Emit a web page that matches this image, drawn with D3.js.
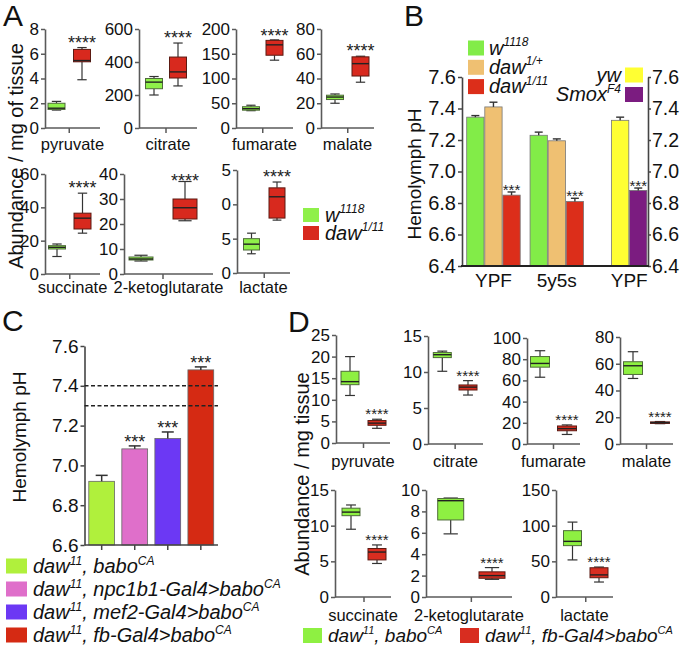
<!DOCTYPE html>
<html><head><meta charset="utf-8">
<script src="https://cdn.jsdelivr.net/npm/d3@7"></script>
<style>body{margin:0;background:#fff}svg{display:block}</style>
</head><body><svg id="c" width="680" height="654"></svg>
<script>
// ================= DATA =================
// Panel A : box plots [min, q1, median, q3, max]
const metabolitesA = ["pyruvate","citrate","fumarate","malate","succinate","2-ketoglutarate","lactate"];
const aW1118 = [[1.45,1.5,1.6,2.0,2.15],[200,238,278,300,312],[35,36,39,43,46],[20,23,25,26.5,27.5],[10.5,15,16,17,18],[5.2,5.6,6.0,6.8,7.5],[2.8,3.35,4.2,5.0,5.8]];
const aDaw = [[3.9,5.35,5.45,6.35,6.5],[255,303,340,430,515],[137,147,168,177,178],[37,42,52,57.5,58],[24.5,27,33.5,36.5,48.5],[21.3,22,26.5,30,37],[7.7,8.0,11.1,12.4,13.25]];
const aTicks = [[0,2,4,6,8],[0,200,400,600],[0,50,100,150,200],[0,20,40,60,80],[0,20,40,60],[0,10,20,30,40],[0,5,10,15]];
const aTickLabels = [null,null,null,null,null,null,["0","5","0","5"]];
const aSig = ["****","****","****","****","****","****","****"];
const aLegend = ["w{1118}","daw{1/11}"];

// Panel B : bars (mean, error)
const bGroupLabels = ["YPF","5y5s","YPF"];
const bLeftSeries = ["w{1118}","daw{1/+}","daw{1/11}"];
const bMeanYPF = [7.345, 7.41, 6.85];
const bErrYPF = [0.01, 0.03, 0.02];
const bMean5y5s = [7.23, 7.195, 6.81];
const bErr5y5s = [0.02, 0.012, 0.02];
const bRightSeries = ["yw","Smox{F4}"];
const bMeanRight = [7.325, 6.88];
const bErrRight = [0.02, 0.015];
const bSigYPF = ["","","***"];
const bSig5y5s = ["","","***"];
const bSigRight = ["","***"];
const bTicks = [6.4,6.6,6.8,7.0,7.2,7.4,7.6];

// Panel C
const cGenotypes = ["daw{11}, babo{CA}","daw{11}, npc1b1-Gal4>babo{CA}","daw{11}, mef2-Gal4>babo{CA}","daw{11}, fb-Gal4>babo{CA}"];
const cMeans = [6.92, 7.083, 7.135, 7.48];
const cErr = [0.03, 0.015, 0.033, 0.015];
const cSig = ["","***","***","***"];
const cRefLines = [7.4, 7.3];
const cTicks = [6.6,6.8,7.0,7.2,7.4,7.6];

// Panel D : box plots [min, q1, median, q3, max]
const metabolitesD = ["pyruvate","citrate","fumarate","malate","succinate","2-ketoglutarate","lactate"];
const dControl = [[11,13.5,14.2,16.6,20],[10.1,12.0,12.4,12.7,12.9],[63,72.5,76,82.5,88],[49,52,58.5,61.5,69],[9.5,11.4,11.9,12.45,12.9],[5.9,7.2,9.0,9.2,9.25],[52,72,78,93,105]];
const dFb = [[3.4,4.1,4.6,5.2,5.5],[6.8,7.5,7.9,8.2,8.8],[9,12.5,14.5,17,18],[15.2,15.4,16,16.5,16.8],[4.7,5.2,6.3,6.8,7.3],[1.65,1.75,2.0,2.35,2.75],[21,27,31,41,42]];
const dTicks = [[0,5,10,15,20,25],[0,5,10,15],[0,20,40,60,80,100],[0,20,40,60,80],[0,5,10,15],[0,2,4,6,8,10],[0,50,100,150]];
const dSig = ["****","****","****","****","****","****","****"];
const dLegend = ["daw{11}, babo{CA}","daw{11}, fb-Gal4>babo{CA}"];

// ================= DRAWING =================
const FONT = "'Liberation Sans', Arial, Helvetica, sans-serif";
const svg = d3.select("#c").attr("font-family", FONT);
const AX = "#5a5a5a";

function parseRich(s){ const out=[]; const re=/([^{}]*)(?:\{([^}]*)\})?/g; let m;
  while((m=re.exec(s))!==null){ if(m[0]==="") {re.lastIndex++; if(re.lastIndex> s.length) break; continue;} out.push([m[1],m[2]||""]); }
  return out; }
function rich(parent, x, y, s, fs, anchor){
  const t = parent.append("text").attr("x",x).attr("y",y).attr("font-size",fs)
    .attr("font-style","italic").attr("text-anchor",anchor||"start").attr("fill","#111");
  const sh = fs*0.42, ss = Math.round(fs*0.6); let raised=false;
  parseRich(s).forEach(([b,sp])=>{
    if(b){ t.append("tspan").attr("dy", raised? sh:0).text(b); raised=false; }
    if(sp){ t.append("tspan").attr("dy", raised?0:-sh).attr("font-size",ss).text(sp); raised=true; }
  });
  return t;
}
function styleAxis(g, fs, color){
  g.attr("font-size",fs).attr("font-family",FONT);
  g.selectAll("path.domain").attr("stroke",color).attr("stroke-width",1.6);
  g.selectAll(".tick line").attr("stroke",color).attr("stroke-width",1.5);
  g.selectAll(".tick text").attr("fill","#111");
}
function letter(x,y,t){ svg.append("text").attr("x",x).attr("y",y).attr("font-size",30).attr("fill","#111").text(t); }
function yTitle(x,y,t,fs){ svg.append("text").attr("transform",`translate(${x},${y}) rotate(-90)`)
  .attr("text-anchor","middle").attr("font-size",fs).attr("fill","#111").text(t); }

function boxPanel(L, name, s1, s2, ticks, tickLabels, sig, fs, sigFs, sigFn, colors){
  const g = svg.append("g");
  const y = d3.scaleLinear().domain([0, d3.max(ticks)]).range([L.zero, L.top]);
  const x = d3.scalePoint().domain(["a","b"]).range(L.cx);
  const ax = d3.axisLeft(y).tickValues(ticks).tickSize(4).tickSizeOuter(0).tickPadding(2)
    .tickFormat((d,i)=> tickLabels ? tickLabels[i] : d3.format("~g")(d));
  const ga = g.append("g").attr("transform",`translate(${L.x0},0)`).call(ax);
  styleAxis(ga, fs, AX);
  g.append("line").attr("x1",L.x0).attr("x2",L.x1).attr("y1",L.zero).attr("y2",L.zero).attr("stroke",AX).attr("stroke-width",1.6);
  const mid = (x("a")+x("b"))/2;
  g.append("line").attr("x1",mid).attr("x2",mid).attr("y1",L.zero).attr("y2",L.zero+5).attr("stroke",AX).attr("stroke-width",1.5);
  g.append("text").attr("x",(L.x0+L.x1)/2 + (L.lx||0)).attr("y",L.zero+L.ly).attr("text-anchor","middle")
    .attr("font-size",16.5).attr("fill","#111").text(name);
  [[s1,"a",colors[0],colors[1]],[s2,"b",colors[2],colors[3]]].forEach(([s,k,fill,stroke])=>{
    const cx = x(k), bw = L.bw, cap = bw*0.55;
    const [mn,q1,md,q3,mx] = s;
    const wl = (a,b)=> g.append("line").attr("x1",cx).attr("x2",cx).attr("y1",y(a)).attr("y2",y(b)).attr("stroke","#333").attr("stroke-width",1.2);
    wl(mx,q3); wl(q1,mn);
    [mn,mx].forEach(v=> g.append("line").attr("x1",cx-cap/2).attr("x2",cx+cap/2).attr("y1",y(v)).attr("y2",y(v)).attr("stroke","#333").attr("stroke-width",1.2));
    g.append("rect").attr("x",cx-bw/2).attr("width",bw).attr("y",y(q3)).attr("height",Math.max(1,y(q1)-y(q3)))
      .attr("fill",fill).attr("stroke",stroke).attr("stroke-width",1);
    g.append("line").attr("x1",cx-bw/2).attr("x2",cx+bw/2).attr("y1",y(md)).attr("y2",y(md)).attr("stroke","#222").attr("stroke-width",1.4);
  });
  g.append("text").attr("x",x("b")).attr("y",sigFn(y(s2[4]),L)).attr("text-anchor","middle")
    .attr("font-size",sigFs).attr("fill","#222").text(sig);
}

// ---------- Panel A ----------
letter(3,26,"A");
yTitle(23,156,"Abundance / mg of tissue",20);
const aLayout = [
  {x0:45,x1:100,top:29,zero:128,cx:[56.5,82],bw:17,ly:22},
  {x0:139,x1:197,top:29,zero:128,cx:[154,178],bw:17,ly:22},
  {x0:236,x1:293,top:29,zero:128,cx:[251,274.5],bw:17,ly:22},
  {x0:321,x1:374,top:29,zero:128,cx:[335,360.5],bw:17,ly:22},
  {x0:45,x1:100,top:174,zero:274,cx:[57,82.5],bw:17,ly:19},
  {x0:124,x1:213,top:174,zero:274,cx:[141,185],bw:24,ly:19},
  {x0:237,x1:290,top:170,zero:273,cx:[251.5,277],bw:16,ly:20}
];
const aCol = ["#8ff04a","#4f6b3a","#d8291e","#5c1a12"];
metabolitesA.forEach((m,i)=> boxPanel(aLayout[i], m, aW1118[i], aDaw[i], aTicks[i], aTickLabels[i], aSig[i], 17, 18,
  (wy,L)=> Math.max(wy+1, L.top+13), aCol));
// legend A
[[aLegend[0],"#8ff04a",208],[aLegend[1],"#d8291e",226]].forEach(([t,c,yy])=>{
  svg.append("rect").attr("x",303).attr("y",yy).attr("width",16).attr("height",14).attr("fill",c);
  rich(svg,325,yy+13.5,t,20);
});

// ---------- Panel B ----------
letter(404,26,"B");
yTitle(421,174,"Hemolymph pH",19);
const bY = d3.scaleLinear().domain([6.4,7.6]).range([266,77]);
const slotX = d3.scaleLinear().domain([0,9]).range([466.7,629.6]);
const bw = 17.3;
const bColLeft = ["#82ec48","#efc072","#dc2e1a"];
const bColRight = ["#ffff33","#7b1c80"];
const bBars = [];
[[bMeanYPF,bErrYPF,bSigYPF,0],[bMean5y5s,bErr5y5s,bSig5y5s,3.5]].forEach(([mv,ev,sv,off])=>{
  mv.forEach((v,i)=> bBars.push({slot:off+i, v, e:ev[i], s:sv[i], c:bColLeft[i]}));
});
bMeanRight.forEach((v,i)=> bBars.push({slot:8+i, v, e:bErrRight[i], s:bSigRight[i], c:bColRight[i]}));
const gB = svg.append("g");
const axL = gB.append("g").attr("transform","translate(462,0)").call(d3.axisLeft(bY).tickValues(bTicks).tickSize(4).tickSizeOuter(0).tickPadding(2).tickFormat(d3.format(".1f")));
styleAxis(axL,20,"#444");
const axR = gB.append("g").attr("transform","translate(648,0)").call(d3.axisRight(bY).tickValues(bTicks).tickSize(3).tickSizeOuter(0).tickPadding(1).tickFormat(d3.format(".1f")));
styleAxis(axR,19.5,"#444");
bBars.forEach(b=>{
  const x = slotX(b.slot);
  gB.append("rect").attr("x",x).attr("width",bw).attr("y",bY(b.v)).attr("height",bY(6.4)-bY(b.v))
    .attr("fill",b.c).attr("stroke","#777").attr("stroke-width",0.8);
  const cx = x+bw/2, et = bY(b.v+b.e);
  gB.append("line").attr("x1",cx).attr("x2",cx).attr("y1",bY(b.v)).attr("y2",et).attr("stroke","#333").attr("stroke-width",1.4);
  gB.append("line").attr("x1",cx-4).attr("x2",cx+4).attr("y1",et).attr("y2",et).attr("stroke","#333").attr("stroke-width",1.4);
  if(b.s) gB.append("text").attr("x",cx).attr("y",et+3).attr("text-anchor","middle").attr("font-size",15).attr("fill","#222").text(b.s);
});
gB.append("line").attr("x1",461).attr("x2",649).attr("y1",266).attr("y2",266).attr("stroke","#222").attr("stroke-width",2);
const groupCenters = [slotX(1)+bw/2, slotX(4.5)+bw/2, slotX(8.5)+bw/2];
bGroupLabels.forEach((t,i)=> gB.append("text").attr("x",groupCenters[i]).attr("y",287).attr("text-anchor","middle").attr("font-size",19).attr("fill","#111").text(t));
bLeftSeries.forEach((t,i)=>{
  const yy = 40.5 + i*19.3;
  gB.append("rect").attr("x",468).attr("y",yy).attr("width",16).attr("height",15).attr("fill",bColLeft[i]);
  rich(gB,489,yy+14,t,20);
});
bRightSeries.forEach((t,i)=>{
  const yy = 67.5 + i*19.5;
  gB.append("rect").attr("x",625).attr("y",yy).attr("width",18).attr("height",15).attr("fill",bColRight[i]);
  rich(gB,621,yy+14,t,20,"end");
});

// ---------- Panel C ----------
letter(2,331,"C");
yTitle(26,437,"Hemolymph pH",19);
const cY = d3.scaleLinear().domain([6.6,7.6]).range([545,346]);
const cX = d3.scaleBand().domain(cGenotypes).range([84.5,218]).paddingInner(0.22).paddingOuter(0.13);
const cCol = ["#b0f03c","#df6fca","#6c38f4","#d52a13"];
const gC = svg.append("g");
const axC = gC.append("g").attr("transform","translate(84.5,0)").call(d3.axisLeft(cY).tickValues(cTicks).tickSize(4).tickSizeOuter(0).tickPadding(2).tickFormat(d3.format(".1f")));
styleAxis(axC,19,"#444");
cGenotypes.forEach((g,i)=>{
  const x = cX(g), w = cX.bandwidth(), cx = x+w/2;
  gC.append("rect").attr("x",x).attr("width",w).attr("y",cY(cMeans[i])).attr("height",cY(6.6)-cY(cMeans[i]))
    .attr("fill",cCol[i]).attr("stroke","#666").attr("stroke-width",0.8);
  const et = cY(cMeans[i]+cErr[i]);
  gC.append("line").attr("x1",cx).attr("x2",cx).attr("y1",cY(cMeans[i])).attr("y2",et).attr("stroke","#333").attr("stroke-width",1.5);
  gC.append("line").attr("x1",cx-6).attr("x2",cx+6).attr("y1",et).attr("y2",et).attr("stroke","#333").attr("stroke-width",1.5);
  if(cSig[i]) gC.append("text").attr("x",cx).attr("y",et+2).attr("text-anchor","middle").attr("font-size",18).attr("fill","#222").text(cSig[i]);
  gC.append("line").attr("x1",cx).attr("x2",cx).attr("y1",545).attr("y2",550).attr("stroke","#444").attr("stroke-width",1.5);
});
cRefLines.forEach(v=> gC.append("line").attr("x1",84.5).attr("x2",218).attr("y1",cY(v)).attr("y2",cY(v))
  .attr("stroke","#222").attr("stroke-width",1.4).attr("stroke-dasharray","4,2.5"));
gC.append("line").attr("x1",84.5).attr("x2",218).attr("y1",545).attr("y2",545).attr("stroke","#444").attr("stroke-width",1.6);
cGenotypes.forEach((g,i)=>{
  const yc = 566 + i*23;
  gC.append("rect").attr("x",6).attr("y",yc-7.5).attr("width",21).attr("height",15).attr("fill",cCol[i]);
  rich(gC,33,yc+7,g,20);
});

// ---------- Panel D ----------
letter(288,332,"D");
yTitle(309,474,"Abundance / mg tissue",20);
const dLayout = [
  {x0:336,x1:390,top:335,zero:443,cx:[350,377],bw:18,ly:24},
  {x0:428,x1:483,top:336,zero:444,cx:[442.3,468],bw:18,ly:23},
  {x0:527,x1:580,top:338,zero:444,cx:[540,567],bw:19,ly:23},
  {x0:620,x1:673,top:337,zero:444,cx:[633,660],bw:19,ly:23},
  {x0:335,x1:391,top:490,zero:597,cx:[351,377],bw:18,ly:24},
  {x0:426,x1:512,top:490,zero:597,cx:[450.7,492],bw:26,ly:24},
  {x0:556,x1:613,top:490,zero:597,cx:[572.5,599],bw:18,ly:24}
];
const dCol = ["#8ef042","#4f6b3a","#d82d20","#5c1a12"];
metabolitesD.forEach((m,i)=> boxPanel(dLayout[i], m, dControl[i], dFb[i], dTicks[i], null, dSig[i], 17, 15,
  (wy,L)=> wy, dCol));
[[dLegend[0],dCol[0],303],[dLegend[1],dCol[2],460]].forEach(([t,c,xx])=>{
  svg.append("rect").attr("x",xx).attr("y",628).attr("width",19).attr("height",15).attr("fill",c);
  rich(svg,xx+25,642,t,19);
});
</script></body></html>
